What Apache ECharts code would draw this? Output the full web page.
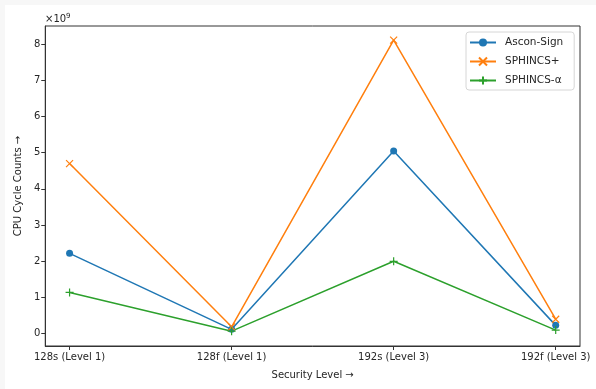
<!DOCTYPE html>
<html>
<head>
<meta charset="utf-8">
<script src="https://cdn.jsdelivr.net/npm/echarts@6/dist/echarts.min.js"></script>
<style>
html,body{margin:0;padding:0;background:#f7f7f7;width:596px;height:389px;overflow:hidden;}
#c{position:absolute;left:5px;top:5px;width:591px;height:384px;background:#fff;}
</style>
</head>
<body>
<div id="c"></div>
<script>
const categories = ['128s (Level 1)', '128f (Level 1)', '192s (Level 3)', '192f (Level 3)'];
const asconSign = [2.22, 0.12, 5.05, 0.23];
const sphincsPlus = [4.70, 0.19, 8.11, 0.40];
const sphincsAlpha = [1.14, 0.07, 2.00, 0.10];
const yTicks = [0, 1, 2, 3, 4, 5, 6, 7, 8];

const font = 'DejaVu Sans';
const textColor = '#262626';
const toPairs = arr => arr.map((v, i) => [i, v]);

const chart = echarts.init(document.getElementById('c'), null, {renderer: 'canvas'});
chart.setOption({
  animation: false,
  textStyle: {fontFamily: font},
  grid: {left: 39, top: 21, right: 16, bottom: 43, show: true, borderColor: '#333', borderWidth: 1, backgroundColor: 'transparent'},
  graphic: [{
    type: 'text', left: 40, top: 8,
    style: {
      text: '×10{s|9}',
      fontFamily: font, fontSize: 10, fill: textColor,
      rich: {s: {fontSize: 7, verticalAlign: 'top', padding: [0, 0, 6, 0], fontFamily: font, fill: textColor}}
    }
  }],
  legend: {
    orient: 'vertical', left: 461, top: 27,
    backgroundColor: '#fff',
    borderColor: '#d6d6d6', borderWidth: 1, borderRadius: 3,
    padding: [5, 11, 4, 3],
    itemWidth: 26, itemHeight: 10, itemGap: 8,
    textStyle: {fontFamily: font, fontSize: 10.5, color: textColor, padding: [0, 0, 0, 4]},
    data: ['Ascon-Sign', 'SPHINCS+', 'SPHINCS-α']
  },
  xAxis: {
    type: 'value', min: -0.15, max: 3.15,
    name: 'Security Level →', nameLocation: 'middle', nameGap: 24,
    nameTextStyle: {fontFamily: font, fontSize: 10, color: textColor},
    splitLine: {show: false},
    axisLine: {show: true, onZero: false, lineStyle: {color: '#333', width: 1}},
    axisTick: {show: true, length: 4, lineStyle: {color: '#333'}, customValues: [0, 1, 2, 3]},
    axisLabel: {
      customValues: [0, 1, 2, 3], margin: 6,
      fontFamily: font, fontSize: 10, color: textColor,
      formatter: v => categories[Math.round(v)]
    }
  },
  yAxis: {
    type: 'value', min: -0.34, max: 8.5,
    name: 'CPU Cycle Counts →', nameLocation: 'middle', nameGap: 20, nameRotate: 90,
    nameTextStyle: {fontFamily: font, fontSize: 10, color: textColor},
    splitLine: {show: false},
    axisLine: {show: true, onZero: false, lineStyle: {color: '#333', width: 1}},
    axisTick: {show: true, length: 4, lineStyle: {color: '#333'}, customValues: yTicks},
    axisLabel: {customValues: yTicks, margin: 5, fontFamily: font, fontSize: 10, color: textColor,
      formatter: v => String(Math.round(v))}
  },
  series: [
    {
      name: 'Ascon-Sign', type: 'line', data: toPairs(asconSign),
      color: '#1f77b4', symbol: 'circle', symbolSize: 7,
      lineStyle: {width: 1.5, color: '#1f77b4'},
      itemStyle: {color: '#1f77b4', borderWidth: 0},
      emphasis: {disabled: true}
    },
    {
      name: 'SPHINCS+', type: 'line', data: toPairs(sphincsPlus),
      color: '#ff7f0e', symbol: 'path://M0,0L10,10M10,0L0,10', symbolSize: 7,
      lineStyle: {width: 1.5, color: '#ff7f0e'},
      itemStyle: {color: '#ff7f0e', borderColor: '#ff7f0e', borderWidth: 1.2},
      emphasis: {disabled: true}
    },
    {
      name: 'SPHINCS-α', type: 'line', data: toPairs(sphincsAlpha),
      color: '#2ca02c', symbol: 'path://M5,0L5,10M0,5L10,5', symbolSize: 8,
      lineStyle: {width: 1.5, color: '#2ca02c'},
      itemStyle: {color: '#2ca02c', borderColor: '#2ca02c', borderWidth: 1.2},
      emphasis: {disabled: true}
    }
  ]
});
</script>
</body>
</html>
